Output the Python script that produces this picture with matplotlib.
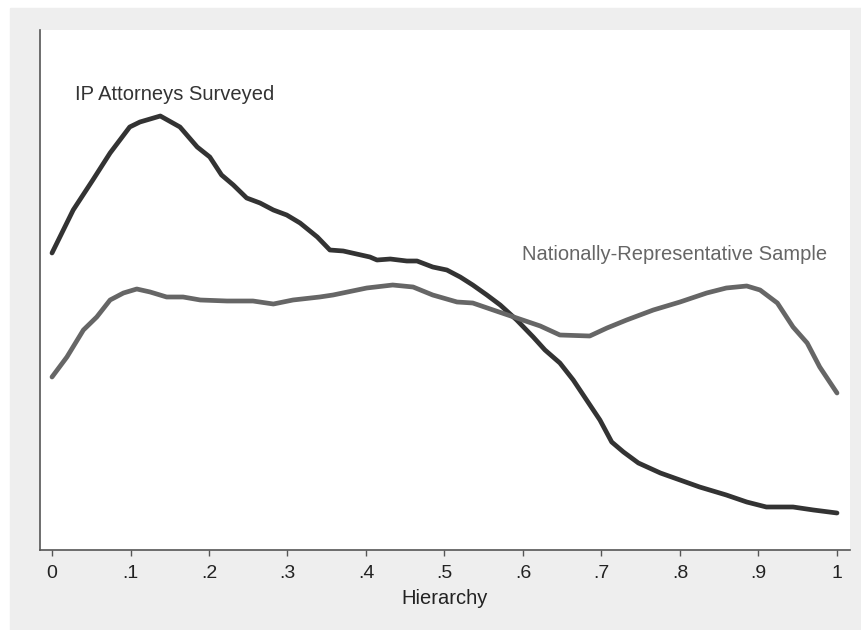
import numpy as np
import matplotlib
matplotlib.use('Agg')
import matplotlib.pyplot as plt
from matplotlib.patches import Rectangle

plt.rcParams['font.family'] = ['Liberation Sans', 'DejaVu Sans']

# IP attorneys surveyed (density)
ip_x = [0.0, 0.027, 0.052, 0.074, 0.099, 0.112, 0.138, 0.163, 0.185, 0.201,
        0.216, 0.231, 0.248, 0.265, 0.282, 0.299, 0.316, 0.338, 0.354, 0.371,
        0.388, 0.405, 0.414, 0.431, 0.452, 0.465, 0.485, 0.503, 0.520, 0.536,
        0.554, 0.571, 0.592, 0.613, 0.628, 0.647, 0.664, 0.681, 0.698, 0.713,
        0.728, 0.747, 0.775, 0.800, 0.825, 0.859, 0.885, 0.910, 0.944, 0.970, 1.0]
ip_y = [1.485, 1.70, 1.85, 1.985, 2.115, 2.14, 2.17, 2.115, 2.015, 1.965,
        1.875, 1.825, 1.76, 1.735, 1.70, 1.675, 1.635, 1.565, 1.50, 1.495,
        1.48, 1.465, 1.45, 1.455, 1.445, 1.445, 1.415, 1.40, 1.365, 1.325,
        1.275, 1.225, 1.15, 1.065, 1.00, 0.935, 0.85, 0.75, 0.65, 0.54,
        0.49, 0.435, 0.385, 0.35, 0.315, 0.275, 0.24, 0.215, 0.215, 0.20, 0.185]

# nationally-representative sample
nat_x = [0.0, 0.019, 0.040, 0.057, 0.074, 0.091, 0.108, 0.125, 0.146, 0.167,
         0.189, 0.223, 0.256, 0.282, 0.307, 0.341, 0.358, 0.401, 0.434, 0.460,
         0.485, 0.516, 0.536, 0.562, 0.592, 0.622, 0.647, 0.685, 0.707, 0.732,
         0.766, 0.800, 0.834, 0.859, 0.885, 0.902, 0.924, 0.944, 0.962, 0.978, 1.0]
nat_y = [0.865, 0.965, 1.10, 1.165, 1.25, 1.285, 1.305, 1.29, 1.265, 1.265,
         1.25, 1.245, 1.245, 1.23, 1.25, 1.265, 1.275, 1.31, 1.325, 1.315,
         1.275, 1.24, 1.235, 1.20, 1.16, 1.12, 1.075, 1.07, 1.11, 1.15,
         1.20, 1.24, 1.285, 1.31, 1.32, 1.30, 1.235, 1.115, 1.035, 0.915, 0.785]

ticks = [0, .1, .2, .3, .4, .5, .6, .7, .8, .9, 1]
tick_labels = ['0', '.1', '.2', '.3', '.4', '.5', '.6', '.7', '.8', '.9', '1']

W, H = 862, 630
fig = plt.figure(figsize=(W / 100, H / 100), dpi=100, facecolor='white')
fig.patches.append(Rectangle((10 / W, 0), (W - 10) / W, (H - 8) / H,
                             transform=fig.transFigure, color='#eeeeee', zorder=-5))

ax = fig.add_axes([40 / W, (H - 550) / H, 810 / W, 520 / H])
ax.set_facecolor('white')

ax.plot(ip_x, ip_y, color='#333333', lw=3.4, solid_capstyle='round',
        solid_joinstyle='round')
ax.plot(nat_x, nat_y, color='#666666', lw=3.4, solid_capstyle='round',
        solid_joinstyle='round')

ax.text(0.029, 2.25, 'IP Attorneys Surveyed', color='#333333', fontsize=14.5,
        va='baseline', ha='left')
ax.text(0.599, 1.45, 'Nationally-Representative Sample', color='#666666',
        fontsize=14.5, va='baseline', ha='left')

ax.set_xlim((40 - 52) / 785, (850 - 52) / 785)
ax.set_ylim(0, 2.6)
ax.set_xticks(ticks)
ax.set_xticklabels(tick_labels, fontsize=14, color='#222222')
ax.set_yticks([])
ax.tick_params(axis='x', direction='out', length=4, width=1, color='#555555', pad=7)
ax.set_xlabel('Hierarchy', fontsize=14.5, color='#222222', labelpad=5)

for side in ['top', 'right']:
    ax.spines[side].set_visible(False)
for side in ['left', 'bottom']:
    ax.spines[side].set_color('#555555')
    ax.spines[side].set_linewidth(1.2)

fig.savefig('out.png', dpi=100, facecolor=fig.get_facecolor())
